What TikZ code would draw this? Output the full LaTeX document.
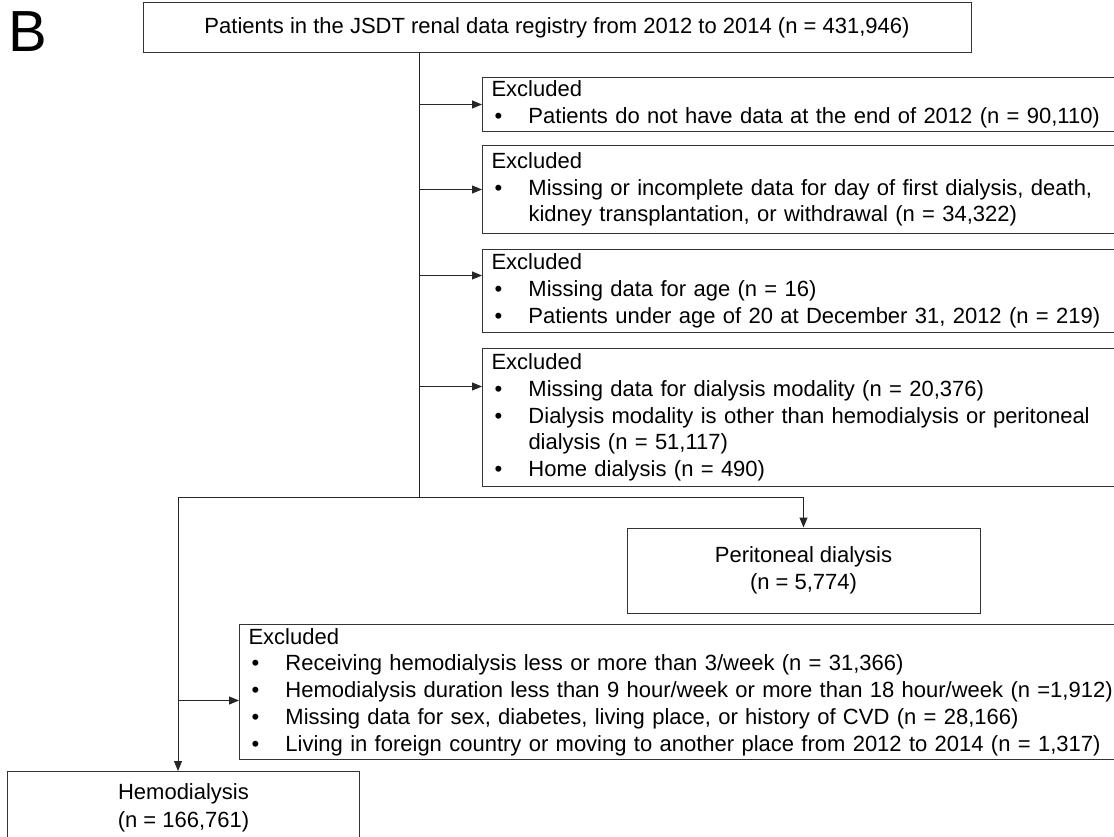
\documentclass[tikz,border=0pt]{standalone}
\usepackage{fontspec}
\setmainfont{Liberation Sans}
\usetikzlibrary{arrows.meta}
\newcommand{\bul}{\makebox[37pt][l]{\hspace{3pt}\textbullet}}
\newcommand{\ind}{\hspace*{37pt}}
\begin{document}
\begin{tikzpicture}[x=1pt, y=-1pt,
    box/.style = {draw=black!80, line width=1pt, inner sep=0pt, align=center, font=\fontsize{22}{27.5}\selectfont},
    exbox/.style = {draw=black!80, line width=1pt, anchor=north west, align=left, text width=640pt, inner xsep=9pt, inner ysep=0pt, font=\fontsize{22}{26.7}\selectfont},
    conn/.style = {draw=black!85, line width=1pt},
    arr/.style = {conn, -{Triangle[length=10pt, width=8pt]}}]
    \useasboundingbox (0,0) rectangle (1114,837);
    \clip (0,0) rectangle (1114,837);
    \node[anchor=base west, inner sep=0pt, font=\fontsize{58}{58}\selectfont] (panel) at (8,52) {B};
    \node[box, minimum width=828pt, minimum height=50pt] (top) at (557,28) {Patients in the JSDT renal data registry from 2012 to 2014 (n = 431,946)};
    \node[exbox, minimum height=54pt] (ex1) at (482,77) {Excluded\\\bul Patients do not have data at the end of 2012 (n = 90,110)};
    \node[exbox, minimum height=88pt] (ex2) at (482,145) {Excluded\\\bul Missing or incomplete data for day of first dialysis, death,\\\ind kidney transplantation, or withdrawal (n = 34,322)};
    \node[exbox, minimum height=83pt] (ex3) at (482,249) {Excluded\\\bul Missing data for age (n = 16)\\\bul Patients under age of 20 at December 31, 2012 (n = 219)};
    \node[exbox, minimum height=138pt] (ex4) at (482,348) {Excluded\\\bul Missing data for dialysis modality (n = 20,376)\\\bul Dialysis modality is other than hemodialysis or peritoneal\\\ind dialysis (n = 51,117)\\\bul Home dialysis (n = 490)};
    \node[box, minimum width=353pt, minimum height=85pt] (pd) at (803.5,570.5) {Peritoneal dialysis\\(n = 5,774)};
    \node[exbox, text width=880pt, minimum height=135pt] (ex5) at (239,624) {Excluded\\\bul Receiving hemodialysis less or more than 3/week (n = 31,366)\\\bul Hemodialysis duration less than 9 hour/week or more than 18 hour/week (n =1,912)\\\bul Missing data for sex, diabetes, living place, or history of CVD (n = 28,166)\\\bul Living in foreign country or moving to another place from 2012 to 2014 (n = 1,317)};
    \node[box, anchor=north west, minimum width=352pt, minimum height=73pt] (hd) at (7,771) {Hemodialysis\\(n = 166,761)};
    \coordinate (split) at (419,497);
    \coordinate (hdturn) at (178,497);
    \coordinate (a3) at ([yshift=15.5pt]ex3.west);
    \coordinate (a4) at ([yshift=31pt]ex4.west);
    \coordinate (a5) at ([yshift=-8.5pt]ex5.west);
    \draw[conn] (top.south -| split) -- (split);
    \draw[arr] (hdturn) -| (pd.north);
    \draw[arr] (hdturn) -- (hdturn |- hd.north);
    \draw[arr] (split |- ex1.west) -- (ex1.west);
    \draw[arr] (split |- ex2.west) -- (ex2.west);
    \draw[arr] (split |- a3) -- (a3);
    \draw[arr] (split |- a4) -- (a4);
    \draw[arr] (hdturn |- a5) -- (a5);
\end{tikzpicture}
\end{document}
